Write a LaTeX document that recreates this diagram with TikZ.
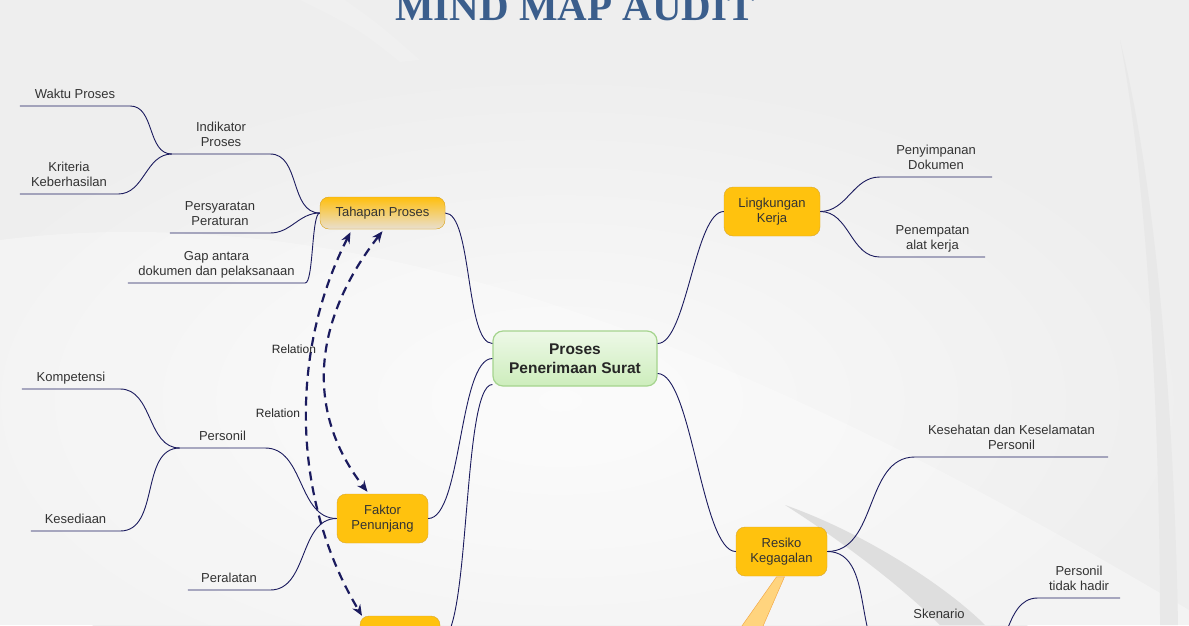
\documentclass[tikz,border=0pt]{standalone}
\usepackage{fontspec}
\setmainfont{Liberation Sans}
\newfontfamily\titlefont{Liberation Serif}
\usetikzlibrary{arrows.meta}
\definecolor{navyx}{HTML}{1B1B5E}
\definecolor{inkx}{HTML}{333333}
\definecolor{goldx}{HTML}{FFC20E}
\definecolor{goldline}{HTML}{D9A62E}
\definecolor{tanx}{HTML}{E9DFCF}
\definecolor{mintx}{HTML}{CDEDBC}
\definecolor{mintline}{HTML}{A5D48E}
\definecolor{paper}{HTML}{EEEEEE}
\definecolor{swoosh}{HTML}{DEDEDE}
\definecolor{titlex}{HTML}{3B5E8C}
\definecolor{notex}{HTML}{FFD47E}
\definecolor{noteline}{HTML}{F2A23C}

\begin{document}
\begin{tikzpicture}[x=1pt, y=1pt,
  core/.style={draw=mintline, line width=1.2pt, top color=mintx!35, bottom color=mintx, rounded corners=10pt, font=\bfseries\fontsize{15.5}{19}\selectfont, text=black!85, align=center, minimum width=164pt, minimum height=55pt},
  topic/.style={draw=goldline, fill=goldx, rounded corners=9pt, font=\fontsize{13}{15}\selectfont, text=inkx, align=center, minimum width=91pt, minimum height=49pt},
  leaf/.style={font=\fontsize{13}{15}\selectfont, text=inkx, align=center, anchor=south, inner xsep=2pt, inner ysep=5pt, text depth=2.5pt},
  branch/.style={draw=navyx, line width=0.9pt},
  rel/.style={{Stealth[length=11pt,width=9pt]}-{Stealth[length=11pt,width=9pt]}, draw=navyx, line width=2.2pt, dash pattern=on 9pt off 6pt},
  rellabel/.style={font=\fontsize{12}{15}\selectfont, text=black!85}]

  % backdrop
  \fill[paper] (0,0) rectangle (1189,-625);
  \useasboundingbox (0,0) rectangle (1189,-625);
  \shade[inner color=white!70!paper, outer color=paper] (560,-400) ellipse (640 and 330);
  \fill[white, opacity=.3] (0,-240) .. controls (400,-190) and (800,-380) .. (1189,-610) -- (1189,-625) -- (0,-625) -- cycle;
  \fill[swoosh] (785,-505) .. controls (870,-535) and (950,-590) .. (985,-625) -- (940,-625) .. controls (900,-585) and (840,-540) .. (785,-505) -- cycle;
  \fill[black!9] (1120,-40) .. controls (1160,-200) and (1175,-450) .. (1178,-625) -- (1160,-625) .. controls (1160,-450) and (1150,-200) .. (1120,-40) -- cycle;
  \fill[black!6] (300,0) -- (345,0) .. controls (380,-25) .. (420,-60) -- (400,-62) .. controls (360,-30) .. (300,0) -- cycle;

  \node[font=\titlefont\bfseries\fontsize{41}{41}\selectfont, text=titlex, anchor=base] (judul) at (575,-20) {MIND MAP AUDIT};

  % main topics
  \node[core] (core) at (575,-358.5) {Proses\\Penerimaan Surat};
  \node[topic, top color=goldx!95!orange, bottom color=tanx, minimum width=125pt, minimum height=32pt] (tahap) at (382.5,-213) {Tahapan Proses};
  \node[topic, minimum width=96pt] (lingk) at (772,-211.5) {Lingkungan\\Kerja};
  \node[topic] (faktor) at (382.5,-518.5) {Faktor\\Penunjang};
  \node[topic] (resiko) at (781.5,-551.5) {Resiko\\Kegagalan};
  \node[topic, minimum width=80pt] (bawah) at (400,-640.5) {};

  % sub topics
  \node[leaf, minimum width=110pt] (waktu) at (75,-106) {Waktu Proses};
  \node[leaf, minimum width=98pt] (indik) at (221,-154) {Indikator\\Proses};
  \node[leaf, minimum width=98pt] (kriteria) at (69,-194) {Kriteria\\Keberhasilan};
  \node[leaf, minimum width=100pt] (syarat) at (220,-233) {Persyaratan\\Peraturan};
  \node[leaf, minimum width=177pt] (gap) at (216.5,-283) {Gap antara\\dokumen dan pelaksanaan};
  \node[leaf, minimum width=98pt] (kompet) at (71,-389) {Kompetensi};
  \node[leaf, minimum width=85pt] (person) at (222.5,-448) {Personil};
  \node[leaf, minimum width=89pt] (sedia) at (75.5,-531) {Kesediaan};
  \node[leaf, minimum width=82pt] (alat) at (229,-590) {Peralatan};
  \node[leaf, minimum width=112pt] (simpan) at (936,-177) {Penyimpanan\\Dokumen};
  \node[leaf, minimum width=105pt] (tempat) at (932.5,-257) {Penempatan\\alat kerja};
  \node[leaf, minimum width=193pt] (sehat) at (1011.5,-457) {Kesehatan dan Keselamatan\\Personil};
  \node[leaf, minimum width=82pt] (hadir) at (1079,-598) {Personil\\tidak hadir};
  \node[leaf, anchor=center, inner ysep=2pt, text depth=0pt] (sken) at (939,-614) {Skenario};
  \coordinate (skenL) at (900,-665);
  \coordinate (skenR) at (975,-665);

  % branches
  \draw[branch] ([yshift=15pt]core.west) to[out=180,in=0,looseness=.5] (tahap.east);
  \draw[branch] (core.west) to[out=180,in=0,looseness=.5] (faktor.east);
  \draw[branch] ([yshift=-26pt]core.west) to[out=180,in=0,looseness=.3] (bawah.east);
  \draw[branch] ([yshift=15pt]core.east) to[out=0,in=180,looseness=.5] (lingk.west);
  \draw[branch] ([yshift=-15pt]core.east) to[out=0,in=180,looseness=.45] (resiko.west);

  \draw[branch] (tahap.west) to[out=180,in=0] (indik.south east) -- (indik.south west);
  \draw[branch] (indik.south west) to[out=180,in=0] (waktu.south east) -- (waktu.south west);
  \draw[branch] (indik.south west) to[out=180,in=0] (kriteria.south east) -- (kriteria.south west);
  \draw[branch] (tahap.west) to[out=180,in=0] (syarat.south east) -- (syarat.south west);
  \draw[branch] (tahap.west) to[out=180,in=0,looseness=.3] (gap.south east) -- (gap.south west);

  \draw[branch] (faktor.west) to[out=180,in=0] (person.south east) -- (person.south west);
  \draw[branch] (person.south west) to[out=180,in=0] (kompet.south east) -- (kompet.south west);
  \draw[branch] (person.south west) to[out=180,in=0] (sedia.south east) -- (sedia.south west);
  \draw[branch] (faktor.west) to[out=180,in=0] (alat.south east) -- (alat.south west);

  \draw[branch] (lingk.east) to[out=0,in=180] (simpan.south west) -- (simpan.south east);
  \draw[branch] (lingk.east) to[out=0,in=180] (tempat.south west) -- (tempat.south east);

  \draw[branch] (resiko.east) to[out=0,in=180] (sehat.south west) -- (sehat.south east);
  \draw[branch] (resiko.east) to[out=0,in=180] (skenL) -- (skenR) to[out=0,in=180] (hadir.south west) -- (hadir.south east);

  % callout
  \filldraw[draw=noteline, fill=notex] ([xshift=-5pt,yshift=-.6pt]resiko.south) -- ([xshift=3pt,yshift=-.6pt]resiko.south) -- (757,-640) -- (732,-640) -- cycle;

  % relations
  \draw[rel] ([xshift=-32pt,yshift=-3pt]tahap.south) .. controls +(243:136) and +(121:136) .. ([xshift=-38pt]bawah.north);
  \draw[rel] ([yshift=-2pt]tahap.south) .. controls +(232:110) and +(128:105) .. ([xshift=-15pt,yshift=2pt]faktor.north);
  \node[rellabel] (relA) at (294,-349) {Relation};
  \node[rellabel] (relB) at (278,-413) {Relation};
\end{tikzpicture}
\end{document}
